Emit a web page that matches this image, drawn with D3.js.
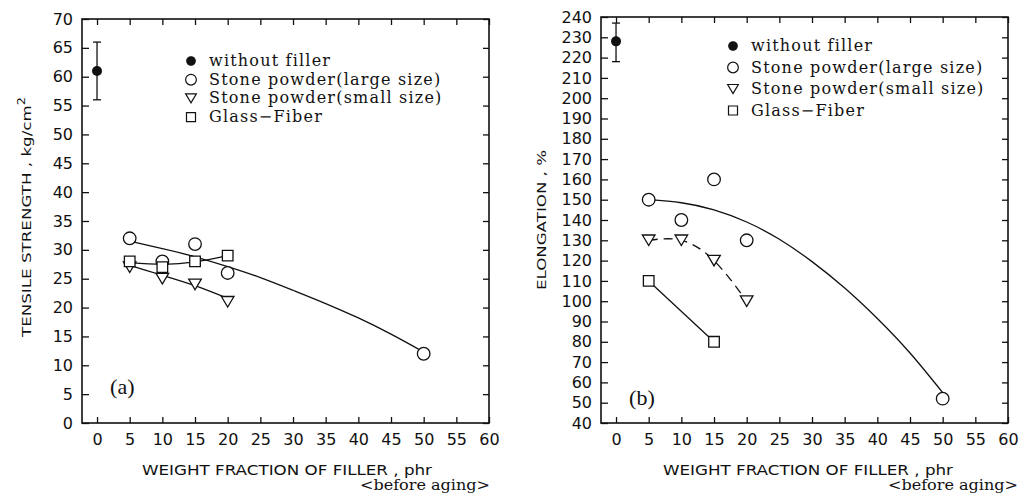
<!DOCTYPE html>
<html>
<head>
<meta charset="utf-8">
<script src="https://cdn.jsdelivr.net/npm/d3@7"></script>
<style>
  body { margin: 0; background: #fff; }
  svg { display: block; }
</style>
</head>
<body>
<div id="chart"></div>
<script>
// tick values
const xTicks = [0, 5, 10, 15, 20, 25, 30, 35, 40, 45, 50, 55, 60];
const yTicksA = [0, 5, 10, 15, 20, 25, 30, 35, 40, 45, 50, 55, 60, 65, 70];
const yTicksB = [40, 50, 60, 70, 80, 90, 100, 110, 120, 130, 140, 150, 160, 170, 180, 190, 200, 210, 220, 230, 240];

const legendLabels = ["without filler", "Stone powder(large size)", "Stone powder(small size)", "Glass\u2212Fiber"];

// (a) tensile strength
const aNoFiller = [{ x: 0, y: 61, lo: 56, hi: 66 }];
const aLargeX = [5, 10, 15, 20, 50];
const aLargeY = [32, 28, 31, 26, 12];
const aLargeFitX = [5, 10, 15, 20, 25, 30, 35, 40, 45, 50];
const aLargeFitY = [31.5, 30.2, 28.8, 27.1, 25.2, 23.0, 20.7, 18.2, 15.4, 12.3];
const aSmallX = [5, 10, 15, 20];
const aSmallY = [27, 25, 24, 21];
const aSmallFitY = [27.3, 25.6, 23.8, 21.6];
const aGlassX = [5, 10, 15, 20];
const aGlassY = [28, 27, 28, 29];
const aGlassFitY = [27.8, 27.5, 27.9, 29];

// (b) elongation
const bNoFiller = [{ x: 0, y: 228, lo: 218, hi: 237 }];
const bLargeX = [5, 10, 15, 20, 50];
const bLargeY = [150, 140, 160, 130, 52];
const bLargeFitX = [5, 10, 15, 20, 25, 30, 35, 40, 45, 50];
const bLargeFitY = [150, 148.5, 145, 139, 130.5, 119.5, 106.5, 91.5, 74.5, 55];
const bSmallX = [5, 10, 15, 20];
const bSmallY = [130, 130, 120, 100];
const bGlassX = [5, 15];
const bGlassY = [110, 80];

const zip = (xs, ys) => xs.map((x, i) => ({ x, y: ys[i] }));

const svg = d3.select("#chart").append("svg")
  .attr("width", 1023)
  .attr("height", 502);

svg.append("rect").attr("width", 1023).attr("height", 502).attr("fill", "#fff");

function drawPanel(cfg) {
  const g = svg.append("g");
  const x = d3.scaleLinear().domain([-2.3, 60]).range([cfg.left, cfg.right]);
  const y = d3.scaleLinear().domain(cfg.yDomain).range([cfg.bottom, cfg.top]);

  const bottom = g.append("g").attr("transform", `translate(0,${cfg.bottom})`)
    .call(d3.axisBottom(x).tickValues(xTicks).tickSize(-6).tickPadding(11));
  const top = g.append("g").attr("transform", `translate(0,${cfg.top})`)
    .call(d3.axisTop(x).tickValues(xTicks).tickSize(-6).tickFormat(""));
  const left = g.append("g").attr("transform", `translate(${cfg.left},0)`)
    .call(d3.axisLeft(y).tickValues(cfg.yTicks).tickSize(-7).tickPadding(9));
  const right = g.append("g").attr("transform", `translate(${cfg.right},0)`)
    .call(d3.axisRight(y).tickValues(cfg.yTicks).tickSize(-6).tickFormat(""));

  [bottom, top, left, right].forEach(a => {
    a.select(".domain").remove();
    a.selectAll("line").attr("stroke", "#111").attr("stroke-width", 1.3);
    a.selectAll("text")
      .attr("font-family", "DejaVu Sans, sans-serif")
      .attr("font-size", 16)
      .attr("fill", "#111");
  });

  g.append("rect")
    .attr("x", cfg.left).attr("y", cfg.top)
    .attr("width", cfg.right - cfg.left).attr("height", cfg.bottom - cfg.top)
    .attr("fill", "none").attr("stroke", "#111").attr("stroke-width", 1.6);

  // titles
  g.append("text")
    .attr("transform", `translate(${cfg.yTitleX},${cfg.yTitleY}) rotate(-90)`)
    .attr("text-anchor", "middle")
    .attr("font-family", "DejaVu Sans, sans-serif")
    .attr("font-size", 13)
    .attr("textLength", cfg.yTitleLen)
    .attr("lengthAdjust", "spacingAndGlyphs")
    .attr("fill", "#111")
    .call(t => {
      t.append("tspan").text(cfg.yTitle);
      if (cfg.yTitleSup) t.append("tspan").attr("dy", -6).attr("font-size", 10).text(cfg.yTitleSup);
    });

  g.append("text")
    .attr("x", cfg.xTitleX).attr("y", 475)
    .attr("font-family", "DejaVu Sans, sans-serif")
    .attr("font-size", 14)
    .attr("textLength", 290)
    .attr("lengthAdjust", "spacingAndGlyphs")
    .attr("fill", "#111")
    .text("WEIGHT FRACTION OF FILLER , phr");

  g.append("text")
    .attr("x", cfg.agingX).attr("y", 490)
    .attr("font-family", "DejaVu Serif, serif")
    .attr("font-size", 15)
    .attr("textLength", 130)
    .attr("lengthAdjust", "spacingAndGlyphs")
    .attr("fill", "#111")
    .text("<before aging>");

  g.append("text")
    .attr("x", x(cfg.tagX)).attr("y", y(cfg.tagY))
    .attr("font-family", "Liberation Serif, serif")
    .attr("font-size", 22)
    .attr("fill", "#111")
    .text(cfg.tag);

  // fit lines
  const line = d3.line().x(d => x(d.x)).y(d => y(d.y)).curve(d3.curveNatural);
  cfg.lines.forEach(l => {
    g.append("path")
      .attr("d", line(l.data))
      .attr("fill", "none")
      .attr("stroke", "#111")
      .attr("stroke-width", 1.3)
      .attr("stroke-dasharray", l.dash || null);
  });

  // no-filler point with error bar
  const nf = g.append("g").selectAll("g").data(cfg.noFiller).join("g");
  nf.append("line")
    .attr("x1", d => x(d.x)).attr("x2", d => x(d.x))
    .attr("y1", d => y(d.lo)).attr("y2", d => y(d.hi))
    .attr("stroke", "#111").attr("stroke-width", 1.3);
  nf.selectAll(".cap").data(d => [d.lo, d.hi].map(v => ({ x: d.x, v }))).join("line")
    .attr("x1", d => x(d.x) - 4).attr("x2", d => x(d.x) + 4)
    .attr("y1", d => y(d.v)).attr("y2", d => y(d.v))
    .attr("stroke", "#111").attr("stroke-width", 1.3);
  nf.append("circle")
    .attr("cx", d => x(d.x)).attr("cy", d => y(d.y)).attr("r", 5)
    .attr("fill", "#111");

  // markers
  cfg.points.forEach(p => {
    g.append("g").selectAll("path").data(p.data).join("path")
      .attr("transform", d => `translate(${x(d.x)},${y(d.y)})`)
      .attr("d", markerPath(p.shape))
      .attr("fill", "#fff")
      .attr("stroke", "#111")
      .attr("stroke-width", 1.3);
  });

  // legend
  const lg = g.append("g").attr("transform", `translate(${cfg.legX},${cfg.legY})`);
  const shapes = ["dot", "circle", "tri", "square"];
  legendLabels.forEach((lab, i) => {
    const row = lg.append("g").attr("transform", `translate(0,${i * cfg.legStep})`);
    row.append("path")
      .attr("d", markerPath(shapes[i], 0.85))
      .attr("fill", shapes[i] === "dot" ? "#111" : "#fff")
      .attr("stroke", "#111")
      .attr("stroke-width", 1.2);
    row.append("text")
      .attr("x", 18).attr("y", 5)
      .attr("font-family", "DejaVu Serif, serif")
      .attr("font-size", 16)
      .attr("letter-spacing", 1.2)
      .attr("fill", "#111")
      .text(lab);
  });
}

function markerPath(shape, k = 1) {
  if (shape === "circle" || shape === "dot") {
    const r = (shape === "dot" ? 5 : 6.3) * k;
    return `M${r},0A${r},${r} 0 1,1 ${-r},0A${r},${r} 0 1,1 ${r},0Z`;
  }
  if (shape === "tri") {
    const w = 6.3 * k, h = 5.3 * k;
    return `M${-w},${-h}L${w},${-h}L0,${h}Z`;
  }
  const s = 5.3 * k;
  return `M${-s},${-s}L${s},${-s}L${s},${s}L${-s},${s}Z`;
}

drawPanel({
  left: 82, right: 489, top: 19, bottom: 423,
  yDomain: [0, 70], yTicks: yTicksA,
  yTitle: "TENSILE STRENGTH , kg/cm", yTitleSup: "2",
  yTitleX: 31, yTitleY: 217, yTitleLen: 240,
  xTitleX: 142, agingX: 360,
  tag: "(a)", tagX: 2, tagY: 5,
  noFiller: aNoFiller,
  lines: [
    { data: zip(aLargeFitX, aLargeFitY) },
    { data: zip(aSmallX, aSmallFitY) },
    { data: zip(aGlassX, aGlassFitY) }
  ],
  points: [
    { shape: "circle", data: zip(aLargeX, aLargeY) },
    { shape: "tri", data: zip(aSmallX, aSmallY) },
    { shape: "square", data: zip(aGlassX, aGlassY) }
  ],
  legX: 191, legY: 61, legStep: 18.7
});

drawPanel({
  left: 601, right: 1008, top: 17, bottom: 423,
  yDomain: [40, 240], yTicks: yTicksB,
  yTitle: "ELONGATION , %", yTitleSup: null,
  yTitleX: 546, yTitleY: 220, yTitleLen: 140,
  xTitleX: 663, agingX: 888,
  tag: "(b)", tagX: 2, tagY: 49,
  noFiller: bNoFiller,
  lines: [
    { data: zip(bLargeFitX, bLargeFitY) },
    { data: zip(bSmallX, bSmallY), dash: "9,6" },
    { data: zip(bGlassX, bGlassY) }
  ],
  points: [
    { shape: "circle", data: zip(bLargeX, bLargeY) },
    { shape: "tri", data: zip(bSmallX, bSmallY) },
    { shape: "square", data: zip(bGlassX, bGlassY) }
  ],
  legX: 733, legY: 46, legStep: 21.5
});
</script>
</body>
</html>
